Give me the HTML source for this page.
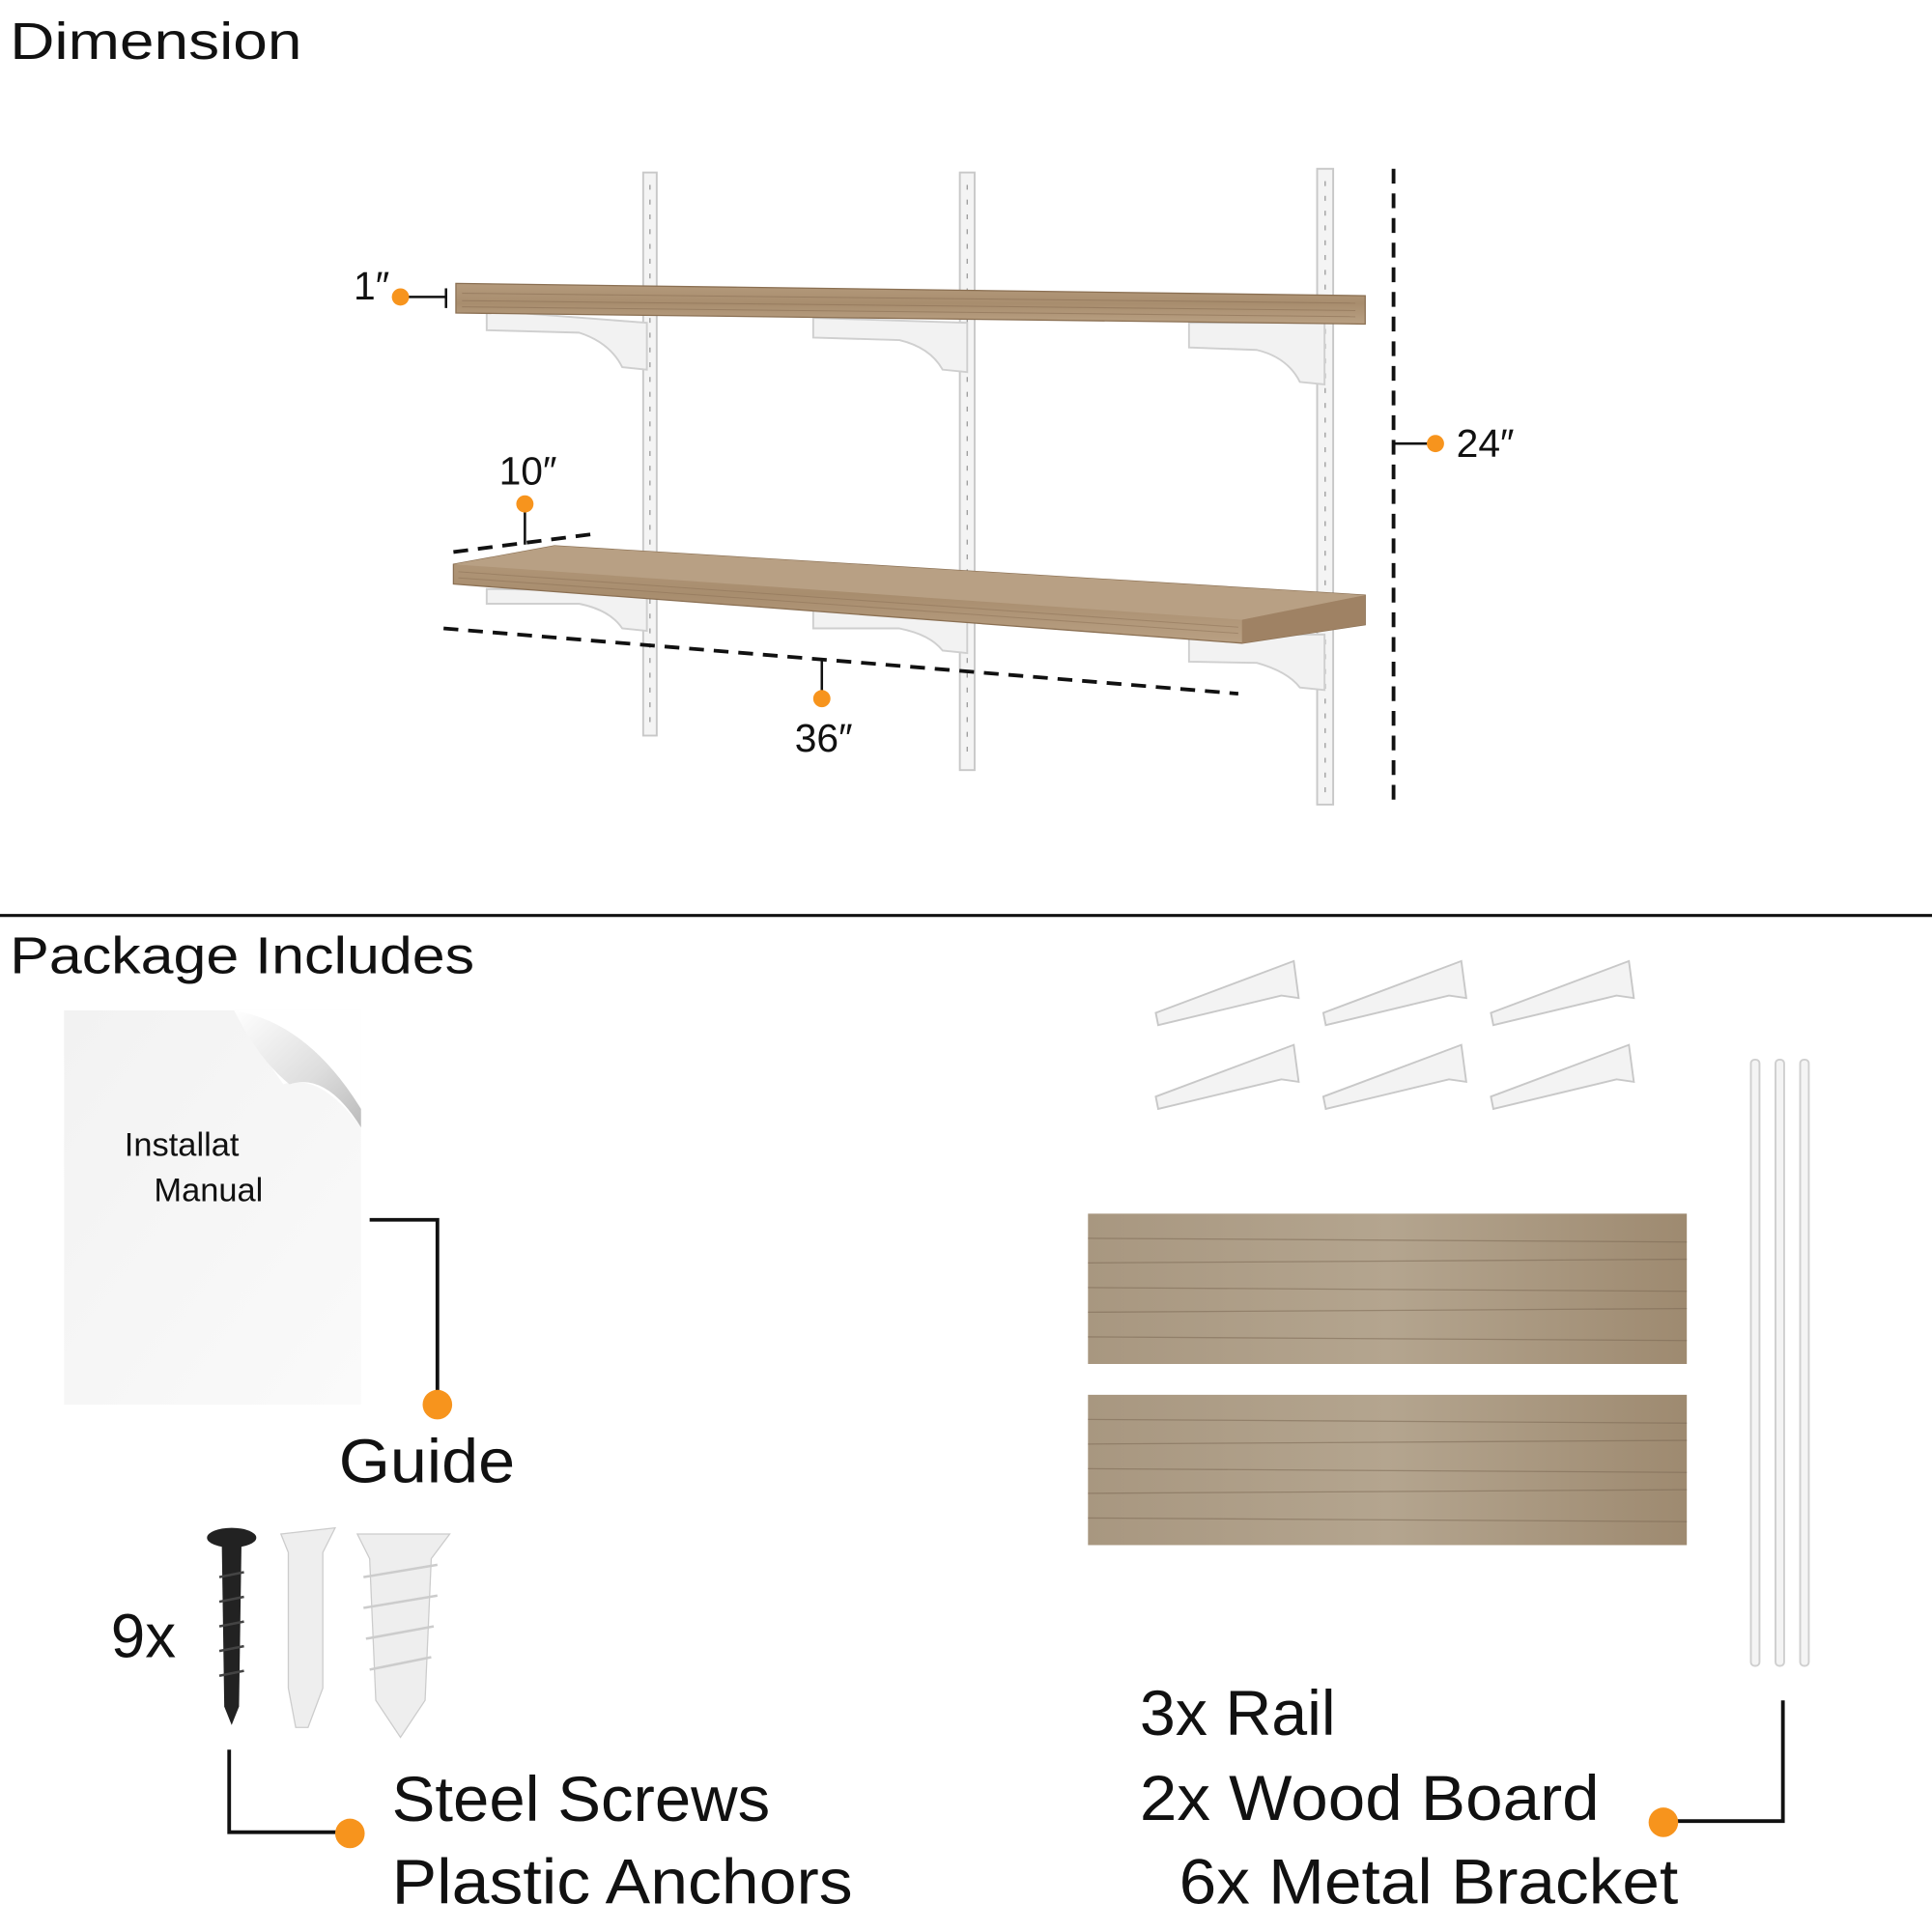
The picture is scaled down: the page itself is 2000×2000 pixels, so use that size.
<!DOCTYPE html>
<html><head><meta charset="utf-8"><style>
html,body{margin:0;padding:0;background:#fff;}
svg{display:block;}
text{font-family:"Liberation Sans",sans-serif;fill:#111;}
</style></head><body>
<svg width="2000" height="2000" viewBox="0 0 1568 1568" xmlns="http://www.w3.org/2000/svg">
<defs>
<linearGradient id="wood" x1="0" y1="0" x2="0" y2="1">
<stop offset="0" stop-color="#b49a7c"/><stop offset="0.5" stop-color="#a88d6e"/><stop offset="1" stop-color="#b9a083"/>
</linearGradient>
<linearGradient id="board" x1="0" y1="0" x2="1" y2="0">
<stop offset="0" stop-color="#a89780"/><stop offset="0.5" stop-color="#b4a58f"/><stop offset="1" stop-color="#9e8a70"/>
</linearGradient>
<linearGradient id="paper" x1="0" y1="0" x2="1" y2="1">
<stop offset="0" stop-color="#f2f2f2"/><stop offset="1" stop-color="#fafafa"/>
</linearGradient>
<linearGradient id="curl" x1="0" y1="0" x2="1" y2="1">
<stop offset="0" stop-color="#fff"/><stop offset="0.6" stop-color="#ddd"/><stop offset="1" stop-color="#bbb"/>
</linearGradient>
</defs>
<rect width="1568" height="1568" fill="#fff"/>
<text x="8" y="48" font-size="42" textLength="237" lengthAdjust="spacingAndGlyphs">Dimension</text>
<g fill="#f4f4f4" stroke="#c8c8c8" stroke-width="1.5">
<rect x="522" y="140" width="11" height="457"/>
<rect x="779" y="140" width="12" height="485"/>
<rect x="1069" y="137" width="13" height="516"/>
</g>
<g stroke="#999" stroke-width="1" stroke-dasharray="4 8">
<line x1="527.5" y1="150" x2="527.5" y2="590"/><line x1="785" y1="150" x2="785" y2="618"/><line x1="1075.5" y1="147" x2="1075.5" y2="645"/>
</g>
<g fill="#f2f2f2" stroke="#cfcfcf" stroke-width="1.5">
<path d="M395 252 L525 262 L525 300 L505 298 Q495 278 470 270 L395 268 Z"/>
<path d="M660 258 L785 262 L785 302 L765 300 Q755 282 730 276 L660 274 Z"/>
<path d="M965 262 L1075 262 L1075 312 L1055 310 Q1045 290 1020 284 L965 282 Z"/>
<path d="M395 478 L525 480 L525 512 L505 510 Q495 495 470 490 L395 490 Z"/>
<path d="M660 495 L785 498 L785 530 L765 528 Q755 515 730 510 L660 510 Z"/>
<path d="M965 515 L1075 515 L1075 560 L1055 558 Q1045 545 1020 538 L965 537 Z"/>
</g>
<path d="M370 230 L1108 240 L1108 263 L370 254 Z" fill="url(#wood)" stroke="#8a6f52" stroke-width="1"/>
<g stroke="#8c7156" stroke-width="0.8" opacity="0.6">
<line x1="375" y1="238" x2="1100" y2="246"/><line x1="375" y1="244" x2="1100" y2="252"/><line x1="375" y1="249" x2="1100" y2="257"/>
</g>
<path d="M368 458 L450 443 L1108 483 L1108 507 L1008 522 L368 474 Z" fill="url(#wood)" stroke="#8a6f52" stroke-width="1"/>
<path d="M368 458 L1008 503 L1108 483 L450 443 Z" fill="#b8a084"/>
<path d="M1008 503 L1108 483 L1108 507 L1008 522 Z" fill="#9f8264"/>
<g stroke="#8c7156" stroke-width="0.8" opacity="0.5">
<line x1="372" y1="464" x2="1005" y2="509"/><line x1="372" y1="469" x2="1005" y2="514"/>
</g>
<g stroke="#111" stroke-width="3" fill="none">
<line x1="1131" y1="137" x2="1131" y2="650" stroke-dasharray="12 8"/>
<line x1="360" y1="510" x2="1005" y2="563" stroke-dasharray="12 8"/>
<line x1="368" y1="448" x2="485" y2="433" stroke-dasharray="12 8"/>
</g>
<g stroke="#111" stroke-width="2">
<line x1="325" y1="241" x2="362" y2="241"/><line x1="362" y1="234" x2="362" y2="250"/>
<line x1="426" y1="409" x2="426" y2="442"/>
<line x1="667" y1="535" x2="667" y2="567"/>
<line x1="1131" y1="360" x2="1165" y2="360"/>
</g>
<g fill="#f7941d">
<circle cx="325" cy="241" r="7"/><circle cx="426" cy="409" r="7"/><circle cx="667" cy="567" r="7"/><circle cx="1165" cy="360" r="7"/>
</g>
<g font-size="32">
<text x="287" y="243">1″</text>
<text x="405" y="393">10″</text>
<text x="645" y="610">36″</text>
<text x="1182" y="371">24″</text>
</g>
<line x1="0" y1="743" x2="1568" y2="743" stroke="#111" stroke-width="2.5"/>
<text x="8" y="790" font-size="42" textLength="377" lengthAdjust="spacingAndGlyphs">Package Includes</text>
<rect x="52" y="820" width="241" height="320" fill="url(#paper)"/>
<path d="M190 820 L293 820 L293 915 Q260 870 230 880 Q205 845 190 820 Z" fill="#fff"/>
<path d="M190 820 Q210 860 235 880 Q265 870 293 915 L293 900 Q250 830 190 820 Z" fill="url(#curl)"/>
<text x="101" y="938" font-size="27">Installat</text>
<text x="125" y="975" font-size="27">Manual</text>
<polyline points="300,990 355,990 355,1140" fill="none" stroke="#111" stroke-width="3"/>
<circle cx="355" cy="1140" r="12" fill="#f7941d"/>
<text x="275" y="1203" font-size="50" textLength="143" lengthAdjust="spacingAndGlyphs">Guide</text>
<text x="90" y="1345" font-size="50">9x</text>
<ellipse cx="188" cy="1248" rx="20" ry="8" fill="#222"/>
<path d="M180 1252 L196 1252 L194 1385 L188 1400 L182 1385 Z" fill="#222"/>
<g stroke="#444" stroke-width="2"><line x1="178" y1="1280" x2="198" y2="1276"/><line x1="178" y1="1300" x2="198" y2="1296"/><line x1="178" y1="1320" x2="198" y2="1316"/><line x1="178" y1="1340" x2="198" y2="1336"/><line x1="178" y1="1360" x2="198" y2="1356"/></g>
<path d="M228 1245 L272 1240 L262 1260 L262 1370 L250 1402 L240 1402 L234 1370 L234 1260 Z" fill="#eee" stroke="#ccc"/>
<path d="M290 1245 L365 1245 L350 1265 L345 1380 L325 1410 L305 1380 L300 1265 Z" fill="#eee" stroke="#ccc"/>
<g stroke="#ccc" stroke-width="2"><line x1="295" y1="1280" x2="355" y2="1270"/><line x1="295" y1="1305" x2="355" y2="1295"/><line x1="297" y1="1330" x2="352" y2="1320"/><line x1="300" y1="1355" x2="350" y2="1345"/></g>
<polyline points="186,1420 186,1487 284,1487" fill="none" stroke="#111" stroke-width="3"/>
<circle cx="284" cy="1488" r="12" fill="#f7941d"/>
<text x="318" y="1478" font-size="52" textLength="307" lengthAdjust="spacingAndGlyphs">Steel Screws</text>
<text x="318" y="1545" font-size="52" textLength="374" lengthAdjust="spacingAndGlyphs">Plastic Anchors</text>
<g fill="#f3f3f3" stroke="#c8c8c8" stroke-width="1.5">
<path d="M938 822 L1050 780 L1054 810 L1040 808 L940 832 Z"/>
<path d="M1074 822 L1186 780 L1190 810 L1176 808 L1076 832 Z"/>
<path d="M1210 822 L1322 780 L1326 810 L1312 808 L1212 832 Z"/>
<path d="M938 890 L1050 848 L1054 878 L1040 876 L940 900 Z"/>
<path d="M1074 890 L1186 848 L1190 878 L1176 876 L1076 900 Z"/>
<path d="M1210 890 L1322 848 L1326 878 L1312 876 L1212 900 Z"/>
</g>
<rect x="883" y="985" width="486" height="122" fill="url(#board)"/>
<rect x="883" y="1132" width="486" height="122" fill="url(#board)"/>
<g stroke="#7d6a55" stroke-width="1" opacity="0.55">
<line x1="883" y1="1005" x2="1369" y2="1008"/><line x1="883" y1="1025" x2="1369" y2="1022"/><line x1="883" y1="1045" x2="1369" y2="1048"/><line x1="883" y1="1065" x2="1369" y2="1062"/><line x1="883" y1="1085" x2="1369" y2="1088"/>
<line x1="883" y1="1152" x2="1369" y2="1155"/><line x1="883" y1="1172" x2="1369" y2="1169"/><line x1="883" y1="1192" x2="1369" y2="1195"/><line x1="883" y1="1212" x2="1369" y2="1209"/><line x1="883" y1="1232" x2="1369" y2="1235"/>
</g>
<g fill="#f4f4f4" stroke="#cfcfcf" stroke-width="1.5">
<rect x="1421" y="860" width="7" height="492" rx="3"/>
<rect x="1441" y="860" width="7" height="492" rx="3"/>
<rect x="1461" y="860" width="7" height="492" rx="3"/>
</g>
<polyline points="1447,1380 1447,1478 1350,1478" fill="none" stroke="#111" stroke-width="3"/>
<circle cx="1350" cy="1479" r="12" fill="#f7941d"/>
<text x="925" y="1408" font-size="52" textLength="159" lengthAdjust="spacingAndGlyphs">3x Rail</text>
<text x="925" y="1477" font-size="52" textLength="373" lengthAdjust="spacingAndGlyphs">2x Wood Board</text>
<text x="957" y="1545" font-size="52" textLength="405" lengthAdjust="spacingAndGlyphs">6x Metal Bracket</text>
</svg>
</body></html>
